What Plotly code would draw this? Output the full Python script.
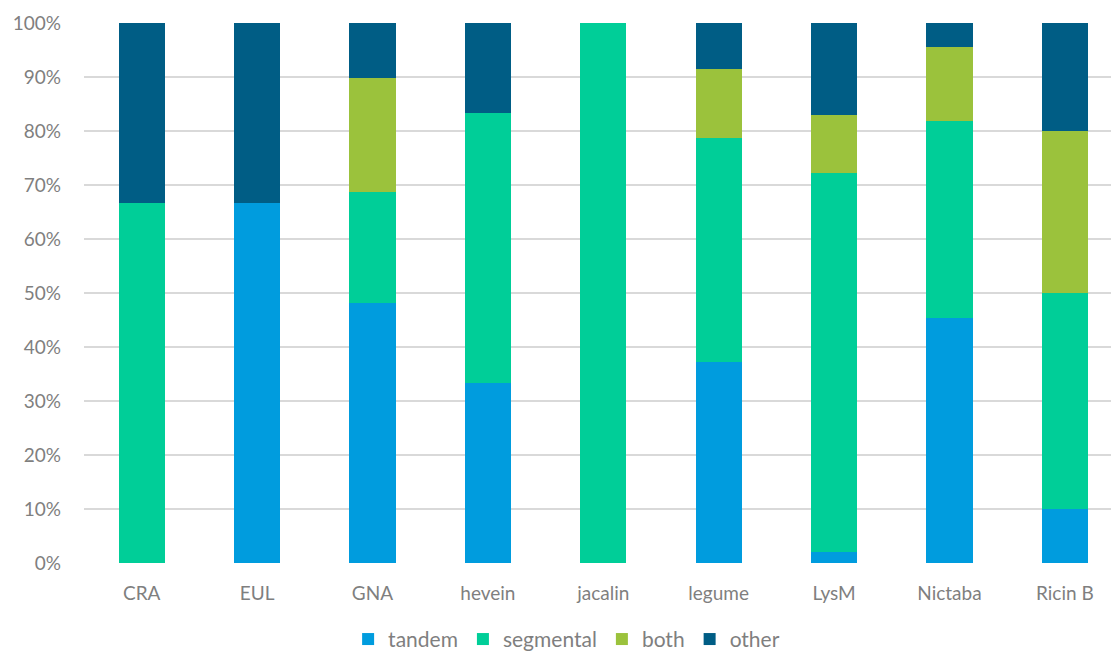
import plotly.graph_objects as go

# Lectin families and share of duplication modes (%)
families = ["CRA", "EUL", "GNA", "hevein", "jacalin", "legume", "LysM", "Nictaba", "Ricin B"]
tandem = [0.0, 66.7, 48.1, 33.3, 0.0, 37.2, 2.1, 45.4, 10.0]
segmental = [66.7, 0.0, 20.6, 50.0, 100.0, 41.5, 70.2, 36.4, 40.0]
both = [0.0, 0.0, 21.1, 0.0, 0.0, 12.8, 10.6, 13.7, 30.0]
other = [33.3, 33.3, 10.2, 16.7, 0.0, 8.5, 17.1, 4.5, 20.0]
y_ticks = list(range(0, 101, 10))
y_tick_labels = [f"{v}%" for v in y_ticks]

series = [
    ("tandem", tandem, "#009CDE"),
    ("segmental", segmental, "#00CE98"),
    ("both", both, "#9BC23C"),
    ("other", other, "#005D85"),
]

fig = go.Figure()
for name, vals, color in series:
    fig.add_trace(go.Bar(
        x=families, y=vals, name=name,
        marker=dict(color=color, line=dict(width=0)),
    ))

font_family = "Lato, Open Sans, sans-serif"
gray = "#7f7f7f"

fig.update_layout(
    barmode="stack",
    bargap=0.6,
    width=1111, height=657,
    margin=dict(l=84, r=0, t=23, b=94, autoexpand=False),
    plot_bgcolor="white", paper_bgcolor="white",
    font=dict(family=font_family, color=gray, size=19),
    xaxis=dict(
        range=[-0.5, 8.4],
        showgrid=False, showline=False, zeroline=False,
        ticks="", ticklabelstandoff=17,
        tickfont=dict(size=19, color=gray),
        automargin=False,
    ),
    yaxis=dict(
        range=[0, 100], tickvals=y_ticks, ticktext=y_tick_labels,
        showgrid=True, gridcolor="#d9d9d9", gridwidth=1.5,
        zeroline=False, showline=False, ticks="",
        ticklabelstandoff=22,
        tickfont=dict(size=19, color=gray),
        automargin=False,
    ),
    legend=dict(
        orientation="h", x=0.51, xanchor="center", xref="container",
        y=0.058, yanchor="top", yref="container",
        font=dict(size=21, color=gray),
        itemwidth=30, traceorder="normal",
    ),
)

fig.write_html("out.html")
